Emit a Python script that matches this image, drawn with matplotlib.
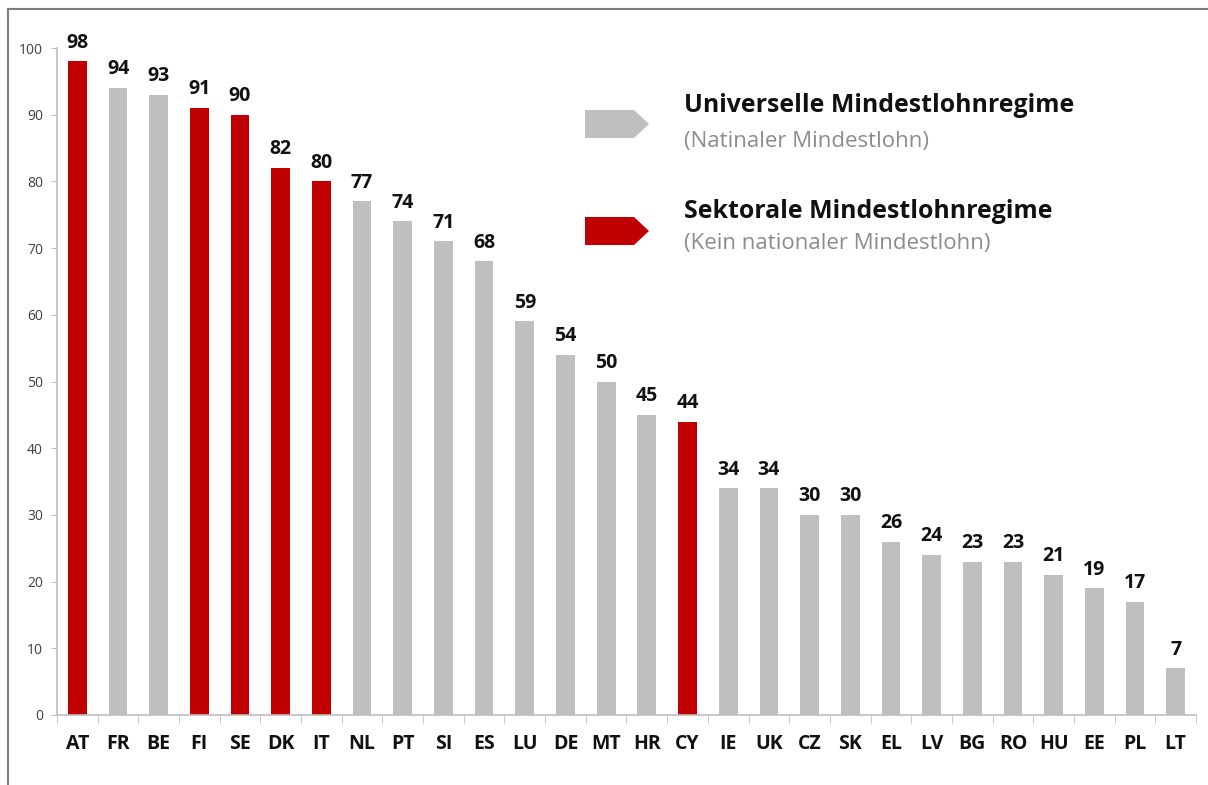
import matplotlib
matplotlib.use("Agg")
import matplotlib.pyplot as plt
from matplotlib.patches import Polygon
from matplotlib.lines import Line2D

countries = ["AT", "FR", "BE", "FI", "SE", "DK", "IT", "NL", "PT", "SI", "ES", "LU", "DE", "MT",
             "HR", "CY", "IE", "UK", "CZ", "SK", "EL", "LV", "BG", "RO", "HU", "EE", "PL", "LT"]
values = [98, 94, 93, 91, 90, 82, 80, 77, 74, 71, 68, 59, 54, 50,
          45, 44, 34, 34, 30, 30, 26, 24, 23, 23, 21, 19, 17, 7]
sectoral = ["AT", "FI", "SE", "DK", "IT", "CY"]
yticks = [0, 10, 20, 30, 40, 50, 60, 70, 80, 90, 100]

RED = "#C00000"
GRAY = "#BFBFBF"
plt.rcParams['font.family'] = ['Open Sans', 'DejaVu Sans']

W, H = 1208, 785
fig = plt.figure(figsize=(W / 100, H / 100), dpi=100)
ax = fig.add_axes([57 / W, 1 - 715 / H, (1196 - 57) / W, (715 - 48) / H])

x = list(range(len(countries)))
colors = [RED if c in sectoral else GRAY for c in countries]
ax.bar(x, values, width=0.46, color=colors, zorder=2)
for xi, v in zip(x, values):
    ax.text(xi, v + 1.3, str(v), ha="center", va="bottom", fontsize=14,
            fontweight="bold", color="#111111", clip_on=False)

ax.set_xlim(-0.5, len(countries) - 0.5)
ax.set_ylim(0, 100)
ax.set_yticks(yticks)
ax.set_yticklabels([str(t) for t in yticks], fontsize=10, color="#404040")
ax.set_xticks(x)
ax.set_xticklabels(countries, fontsize=14, fontweight="bold", color="#111111")
ax.tick_params(axis="x", length=0, pad=14)
ax.tick_params(axis="y", length=4, color="#BFBFBF", pad=6)
ax.set_xticks([i - 0.5 for i in range(len(countries) + 1)], minor=True)
ax.tick_params(axis="x", which="minor", length=6, color="#BFBFBF", direction="out")
for s in ["top", "right"]:
    ax.spines[s].set_visible(False)
for s in ["left", "bottom"]:
    ax.spines[s].set_color("#BFBFBF")
    ax.spines[s].set_linewidth(1.2)

def px(xp, yp):
    return (xp / W, 1 - yp / H)

def arrow(y0, y1, color):
    pts = [px(585, y0), px(634, y0), px(649, (y0 + y1) / 2), px(634, y1), px(585, y1)]
    fig.patches.append(Polygon(pts, closed=True, transform=fig.transFigure,
                               facecolor=color, edgecolor="none"))

arrow(110, 138, GRAY)
arrow(217, 245, RED)
fig.text(*px(684, 106), "Universelle Mindestlohnregime", fontsize=17.9, fontweight="bold",
         color="#111111", va="center", ha="left")
fig.text(*px(684, 141), "(Natinaler Mindestlohn)", fontsize=16, color="#8C8C8C",
         va="center", ha="left")
fig.text(*px(684, 211), "Sektorale Mindestlohnregime", fontsize=17.9, fontweight="bold",
         color="#111111", va="center", ha="left")
fig.text(*px(684, 244), "(Kein nationaler Mindestlohn)", fontsize=16, color="#8C8C8C",
         va="center", ha="left")

fig.add_artist(Line2D([8 / W, 1], [1 - 8.5 / H, 1 - 8.5 / H], transform=fig.transFigure,
                      color="#7F7F7F", linewidth=1.5))
fig.add_artist(Line2D([8 / W, 8 / W], [0, 1 - 8.5 / H], transform=fig.transFigure,
                      color="#7F7F7F", linewidth=1.5))

fig.savefig("out.png", dpi=100, facecolor="white")
